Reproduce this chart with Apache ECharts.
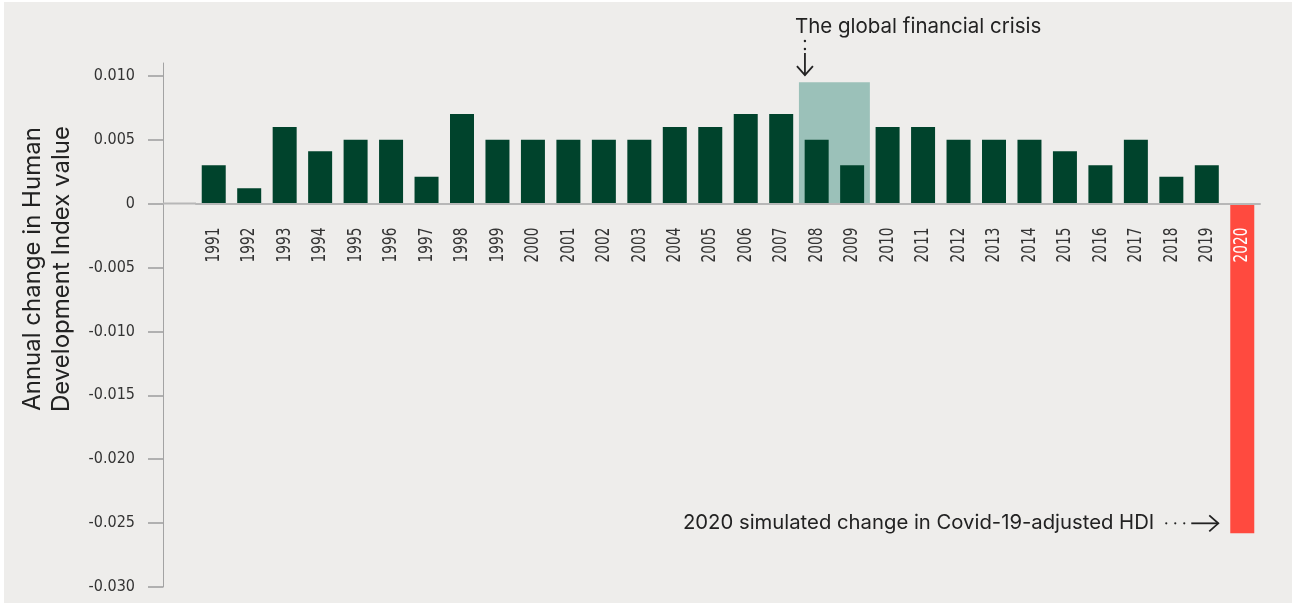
<!DOCTYPE html>
<html>
<head>
<meta charset="utf-8">
<script src="https://cdn.jsdelivr.net/npm/echarts@6/dist/echarts.min.js"></script>
<style>
html,body{margin:0;padding:0;background:#ffffff;}
#wrap{position:absolute;left:4px;top:2px;width:1288px;height:601px;background:#eeedeb;}
#chart{position:absolute;left:-4px;top:-2px;width:1297px;height:607px;}
</style>
</head>
<body>
<div id="wrap"><div id="chart"></div></div>
<script>
const years = ['1991','1992','1993','1994','1995','1996','1997','1998','1999','2000','2001','2002','2003','2004','2005','2006','2007','2008','2009','2010','2011','2012','2013','2014','2015','2016','2017','2018','2019','2020'];
const hdiChange = [0.003,0.0012,0.006,0.0041,0.005,0.005,0.0021,0.007,0.005,0.005,0.005,0.005,0.005,0.006,0.006,0.007,0.007,0.005,0.003,0.006,0.006,0.005,0.005,0.005,0.0041,0.003,0.005,0.0021,0.003,-0.0258];
const yTicks = [-0.030,-0.025,-0.020,-0.015,-0.010,-0.005,0,0.005,0.010];
const crisisYears = ['2008','2009'];
const crisisTop = 0.0095;
const covidYear = '2020';
const covidText = '2020 simulated change in Covid-19-adjusted HDI';
const crisisText = 'The global financial crisis';
const yName = ['Annual change in Human','Development Index value'];

const GREEN = '#00432c', RED = '#ff4a3f', BOX = '#9bc1b9';
const NARROW = "'DejaVu Sans Condensed','DejaVu Sans',sans-serif";
const SANS = "Inter, 'Noto Sans', sans-serif";

const chart = echarts.init(document.getElementById('chart'), null, {renderer:'canvas'});
chart.setOption({
  backgroundColor: 'transparent',
  animation: false,
  grid: {left:196, right:37, top:63, bottom:20, containLabel:false, outerBoundsMode:'none'},
  xAxis: {
    type:'category',
    data: years,
    z: 10,
    axisLine: {onZero:true, lineStyle:{color:'#b7b7b7', width:2}},
    axisTick: {show:false},
    axisLabel: {show:false}
  },
  yAxis: {
    type:'value', min:-0.030, max:0.011, offset:33,
    splitLine:{show:false},
    axisLine:{show:true, lineStyle:{color:'#a3a3a3', width:1}},
    axisTick:{show:true, length:15, lineStyle:{color:'#b0b0b0', width:2}, customValues: yTicks},
    axisLabel:{customValues: yTicks, margin:28, fontFamily:NARROW, fontSize:16, color:'#333333',
      formatter: v => Math.abs(v) < 1e-9 ? '0' : v.toFixed(3)}
  },
  series: [{
    type:'bar',
    barWidth: 24,
    data: hdiChange.map((v,i) => years[i] === covidYear ? {value:v, itemStyle:{color:RED}} : v),
    itemStyle:{color:GREEN},
    markArea: {
      silent:true,
      itemStyle:{color:BOX, opacity:1},
      data: [[{xAxis:crisisYears[0], yAxis:0}, {xAxis:crisisYears[1], yAxis:crisisTop}]]
    }
  }, {
    type:'custom',
    z: 12,
    silent: true,
    data: years.map(y => [y, 0]),
    renderItem: function(params, api){
      const idx = api.value(0);
      const p = api.coord([idx, 0]);
      const yr = years[idx];
      return {
        type:'text', x:p[0], y:p[1]+24, rotation:Math.PI/2, scaleX:0.76,
        style:{text:yr, font:"20px "+NARROW, fill: yr === covidYear ? '#ffffff' : '#333333', align:'right', verticalAlign:'middle'}
      };
    }
  }]
});

function addGraphics(){
  const p1 = chart.convertToPixel({gridIndex:0}, [crisisYears[0], crisisTop]);
  const p2 = chart.convertToPixel({gridIndex:0}, [crisisYears[1], crisisTop]);
  const band = p2[0] - p1[0];
  const zeroL = chart.convertToPixel({gridIndex:0}, [years[0], 0]);
  const axisX = 196 - 33;
  const bandLeft = p1[0] - band/2;
  const ax = bandLeft + 6;
  const tipY = p1[1] - 7;
  const pc = chart.convertToPixel({gridIndex:0}, [covidYear, hdiChange[years.indexOf(covidYear)]]);
  const covLeft = pc[0] - 12;
  const cy = pc[1] - 10;
  const tipX = covLeft - 12;
  const els = [
    {type:'line', shape:{x1:axisX, y1:zeroL[1], x2:196, y2:zeroL[1]}, style:{stroke:'#b7b7b7', lineWidth:2}, z:10},
    {type:'text', style:{text:crisisText, x:bandLeft-4, y:27, font:"20.5px "+SANS, fill:'#222', textVerticalAlign:'middle'}},
    {type:'circle', shape:{cx:ax, cy:41, r:1.2}, style:{fill:'#222'}},
    {type:'circle', shape:{cx:ax, cy:49, r:1.2}, style:{fill:'#222'}},
    {type:'line', shape:{x1:ax, y1:53, x2:ax, y2:tipY}, style:{stroke:'#222', lineWidth:1.8}},
    {type:'polyline', shape:{points:[[ax-8,tipY-9],[ax,tipY],[ax+8,tipY-9]]}, style:{stroke:'#222', lineWidth:1.8, fill:null}},
    {type:'text', style:{text:covidText, x:tipX-64, y:cy, font:"20.3px "+SANS, fill:'#222', textAlign:'right', textVerticalAlign:'middle'}},
    {type:'circle', shape:{cx:tipX-52, cy:cy, r:1.1}, style:{fill:'#222'}},
    {type:'circle', shape:{cx:tipX-43, cy:cy, r:1.1}, style:{fill:'#222'}},
    {type:'circle', shape:{cx:tipX-34, cy:cy, r:1.1}, style:{fill:'#222'}},
    {type:'line', shape:{x1:tipX-27, y1:cy, x2:tipX, y2:cy}, style:{stroke:'#222', lineWidth:1.8}},
    {type:'polyline', shape:{points:[[tipX-9,cy-8],[tipX,cy],[tipX-9,cy+8]]}, style:{stroke:'#222', lineWidth:1.8, fill:null}},
    {type:'text', rotation:Math.PI/2, x:47, y:269, style:{text:yName.join('\n'), font:"24px "+SANS, fill:'#222', textAlign:'center', textVerticalAlign:'middle', lineHeight:29}}
  ];
  chart.setOption({graphic: els});
}
addGraphics();
</script>
</body>
</html>
